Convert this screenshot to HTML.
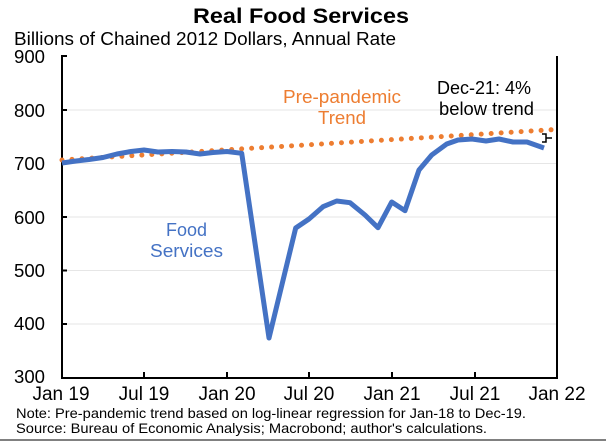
<!DOCTYPE html>
<html><head><meta charset="utf-8"><style>
body{margin:0;background:#fff}
svg{display:block;font-family:"Liberation Sans",Arial,sans-serif}
</style></head><body>
<svg width="606" height="441" viewBox="0 0 606 441" xmlns="http://www.w3.org/2000/svg">
<text x="193" y="23" font-size="21" font-weight="bold" textLength="216" lengthAdjust="spacingAndGlyphs">Real Food Services</text>
<text x="14" y="45" font-size="18" textLength="382" lengthAdjust="spacingAndGlyphs">Billions of Chained 2012 Dollars, Annual Rate</text>
<g stroke="#e6e6e6" stroke-width="1">
<line x1="62" x2="557" y1="110" y2="110"/><line x1="62" x2="557" y1="163.5" y2="163.5"/>
<line x1="62" x2="557" y1="217" y2="217"/><line x1="62" x2="557" y1="270.5" y2="270.5"/>
<line x1="62" x2="557" y1="324" y2="324"/>
</g>
<g stroke="#000" stroke-width="2">
<line x1="61" x2="67" y1="56" y2="56"/><line x1="61" x2="67" y1="110" y2="110"/>
<line x1="61" x2="67" y1="163.5" y2="163.5"/><line x1="61" x2="67" y1="217" y2="217"/>
<line x1="61" x2="67" y1="270.5" y2="270.5"/><line x1="61" x2="67" y1="324" y2="324"/>
</g>
<g font-size="18">
<text x="14" y="63" textLength="31" lengthAdjust="spacingAndGlyphs">900</text>
<text x="14" y="117" textLength="31" lengthAdjust="spacingAndGlyphs">800</text>
<text x="14" y="170" textLength="31" lengthAdjust="spacingAndGlyphs">700</text>
<text x="14" y="224" textLength="31" lengthAdjust="spacingAndGlyphs">600</text>
<text x="14" y="277" textLength="31" lengthAdjust="spacingAndGlyphs">500</text>
<text x="14" y="330" textLength="31" lengthAdjust="spacingAndGlyphs">400</text>
<text x="14" y="383" textLength="31" lengthAdjust="spacingAndGlyphs">300</text>
</g>
<path d="M62 56 V378 H557 V56" fill="none" stroke="#000" stroke-width="2"/>
<g stroke="#000" stroke-width="2">
<line x1="144" x2="144" y1="378" y2="372"/><line x1="227" x2="227" y1="378" y2="372"/>
<line x1="309" x2="309" y1="378" y2="372"/><line x1="392" x2="392" y1="378" y2="372"/>
<line x1="475" x2="475" y1="378" y2="372"/>
</g>
<g font-size="19" text-anchor="middle">
<text x="61" y="400">Jan 19</text><text x="144" y="400">Jul 19</text><text x="227" y="400">Jan 20</text>
<text x="309" y="400">Jul 20</text><text x="392" y="400">Jan 21</text><text x="475" y="400">Jul 21</text><text x="557" y="400">Jan 22</text>
</g>
<line x1="62" y1="160" x2="556" y2="129.5" stroke="#ed7d31" stroke-width="5" stroke-linecap="round" stroke-dasharray="0 10"/>
<polyline fill="none" stroke="#4472c4" stroke-width="5" stroke-linejoin="round"
points="62,163 76,161 89,159.5 103,157.5 117,154 131,151.5 144,150 158,152 172,151.5 186,152 200,154 213,152.5 227,151.5 241.7,153.3 269,338 295.7,228 309,219 323,206.7 336.7,201 350,202.7 365,215 378,227.7 391.7,202 405,210.7 419,170 431.7,155 446.7,144 458,140 472,139 486,141 499,139 513,142 527,142 544,148"/>
<path d="M542 134 h4 v8 h-4 M546 138 h6" fill="none" stroke="#000" stroke-width="1.5"/>
<g fill="#ed7d31" font-size="18">
<text x="283" y="103" textLength="118" lengthAdjust="spacingAndGlyphs">Pre-pandemic</text>
<text x="318" y="124" textLength="48" lengthAdjust="spacingAndGlyphs">Trend</text>
</g>
<g fill="#4472c4" font-size="18">
<text x="166" y="236" textLength="41" lengthAdjust="spacingAndGlyphs">Food</text>
<text x="150" y="257" textLength="73" lengthAdjust="spacingAndGlyphs">Services</text>
</g>
<g font-size="18">
<text x="437" y="94" textLength="94" lengthAdjust="spacingAndGlyphs">Dec-21: 4%</text>
<text x="439" y="115" textLength="95" lengthAdjust="spacingAndGlyphs">below trend</text>
</g>
<g font-size="14">
<text x="16" y="418" textLength="510" lengthAdjust="spacingAndGlyphs">Note: Pre-pandemic trend based on log-linear regression for Jan-18 to Dec-19.</text>
<text x="16" y="433" textLength="471" lengthAdjust="spacingAndGlyphs">Source: Bureau of Economic Analysis; Macrobond; author's calculations.</text>
</g>
<line x1="0" y1="440" x2="606" y2="440" stroke="#000" stroke-width="1"/>
</svg>
</body></html>
